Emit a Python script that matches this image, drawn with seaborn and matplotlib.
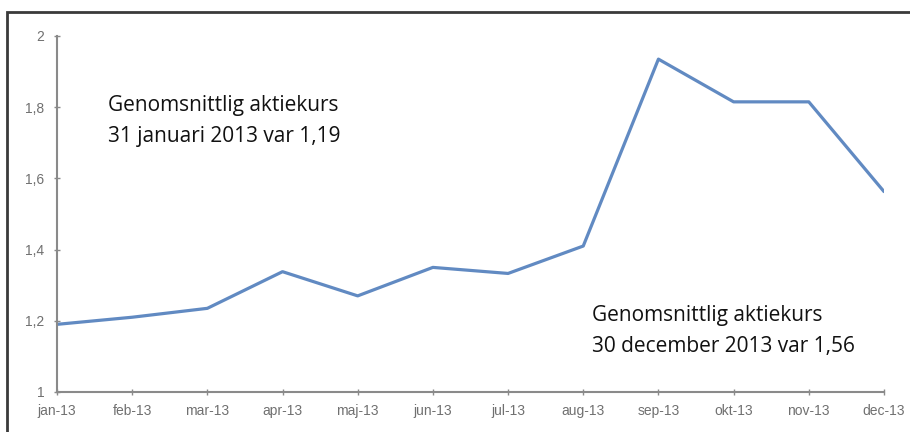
import pandas as pd
import seaborn as sns
import matplotlib.pyplot as plt
from matplotlib.patches import Rectangle

months = ["jan-13", "feb-13", "mar-13", "apr-13", "maj-13", "jun-13",
          "jul-13", "aug-13", "sep-13", "okt-13", "nov-13", "dec-13"]
kurs = [1.19, 1.21, 1.235, 1.338, 1.27, 1.35, 1.333, 1.41, 1.935, 1.815, 1.815, 1.563]
y_ticks = [1, 1.2, 1.4, 1.6, 1.8, 2]
y_labels = ["1", "1,2", "1,4", "1,6", "1,8", "2"]

df = pd.DataFrame({"month": months, "kurs": kurs})

sns.set_theme(style="white")
plt.rcParams['font.family'] = ['Liberation Sans', 'DejaVu Sans']

fig = plt.figure(figsize=(9.1, 4.32), dpi=100)
ax = fig.add_axes([0.0626, 0.0926, 0.9088, 0.8241])

sns.lineplot(data=df, x="month", y="kurs", sort=False, color="#618ac2",
             linewidth=2.3, ax=ax)

ax.set_xlim(0, len(months) - 1)
ax.set_ylim(1, 2)
ax.set_yticks(y_ticks)
ax.set_yticklabels(y_labels)
ax.set_xlabel("")
ax.set_ylabel("")

for side in ["top", "right"]:
    ax.spines[side].set_visible(False)
for side in ["left", "bottom"]:
    ax.spines[side].set_color("#8a8a8a")
    ax.spines[side].set_linewidth(1.5)

ax.tick_params(axis="both", colors="#8a8a8a", labelcolor="#707070",
               labelsize=10, length=4, width=1, direction="inout",
               left=True, bottom=True)
ax.tick_params(axis="x", pad=7)
ax.tick_params(axis="y", pad=7)

text_font = ["Open Sans", "DejaVu Sans"]
fig.text(108 / 910, 1 - 121 / 432, "Genomsnittlig aktiekurs\n31 januari 2013 var 1,19",
         fontsize=15, family=text_font, color="#111111",
         va="center", ha="left", linespacing=1.6)
fig.text(592 / 910, 1 - 331 / 432, "Genomsnittlig aktiekurs\n30 december 2013 var 1,56",
         fontsize=15, family=text_font, color="#111111",
         va="center", ha="left", linespacing=1.6)

# dark frame around the whole picture
fig.patches.append(Rectangle((7 / 910, -0.05), 1.0, 1 - 12 / 432 + 0.05,
                             transform=fig.transFigure, fill=False,
                             edgecolor="#3a3a3a", linewidth=2))

fig.savefig("out.png", dpi=100)
